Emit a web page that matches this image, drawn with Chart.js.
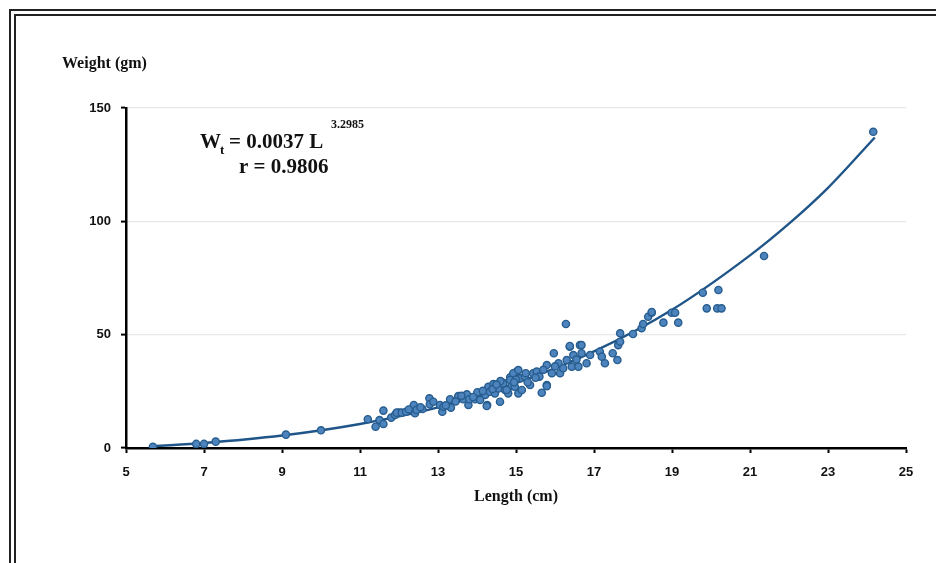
<!DOCTYPE html>
<html>
<head>
<meta charset="utf-8">
<script src="https://cdn.jsdelivr.net/npm/chart.js@4.4.1/dist/chart.umd.min.js"></script>
<style>
  body { margin: 0; background: #fff; }
  #wrap { position: relative; width: 936px; height: 563px; overflow: hidden; }
  #frame { position: absolute; left: 9px; top: 9px; width: 1000px; height: 700px; border: 7px double #222; box-sizing: border-box; }
  canvas { position: absolute; left: 0; top: 0; }
</style>
</head>
<body>
<div id="wrap">
  <div id="frame"></div>
  <canvas id="myChart" width="936" height="563"></canvas>
</div>
<script>
// observed length (cm) / weight (gm) pairs
const lengths = [
  5.69, 6.8, 7.0, 7.3, 9.1, 10.0,
  11.2, 11.4, 11.5, 11.6, 11.6, 11.8, 11.9, 12.0,
  11.94, 12.07, 12.18, 12.38, 12.41, 12.45, 12.78, 12.79, 12.88, 13.05, 13.11, 13.14,
  13.31, 13.33, 13.52, 13.65, 13.74, 13.78, 13.8, 13.95, 14.01, 14.21, 14.26, 14.29,
  14.33, 14.42, 14.46, 14.55, 14.59, 14.67, 14.72, 14.8, 14.85, 14.89, 15.02, 15.06,
  14.67, 14.76, 14.85, 14.93, 14.97, 15.06, 15.1, 15.15, 15.23, 15.36, 15.44, 15.53,
  15.6, 15.66, 15.79, 15.79, 15.92, 15.97, 16.09, 16.13, 16.21, 16.3, 16.38, 16.43,
  16.47, 16.6, 16.64, 16.68, 16.81, 16.9, 17.15, 17.28,
  16.28, 16.38, 16.68, 17.2, 17.48, 17.6, 17.62, 17.67, 17.67, 18.0, 18.22, 18.26,
  18.39, 18.48, 18.78, 19.16, 18.48, 18.99, 19.08,
  19.79, 19.89, 20.19, 20.16, 20.27, 21.36, 24.16,
  14.25, 14.08, 15.79, 13.9, 14.4, 14.6, 15.3, 15.5, 13.2, 12.6, 14.15, 15.0,
  12.25, 12.55, 13.45, 13.6, 14.5, 14.95, 15.25, 15.7, 16.0, 16.55
];
const weights = [
  0.5, 1.8, 1.8, 2.8, 5.9, 7.8,
  12.7, 9.4, 12.3, 16.5, 10.6, 13.4, 14.6, 15.6,
  15.6, 15.6, 16.0, 19.0, 15.3, 16.8, 21.9, 19.3, 20.4, 19.0, 16.0, 18.2,
  21.5, 17.8, 22.9, 21.5, 23.7, 19.0, 21.5, 21.5, 24.6, 23.4, 19.0, 27.0,
  24.8, 28.2, 24.1, 26.3, 20.4, 28.8, 25.6, 24.1, 31.2, 27.3, 33.7, 24.1,
  28.5, 25.6, 30.0, 33.0, 27.0, 34.4, 30.7, 25.6, 31.5, 27.8, 33.0, 33.7,
  31.5, 24.4, 27.8, 36.6, 33.0, 41.8, 37.4, 33.0, 35.2, 38.8, 44.7, 35.9,
  41.0, 35.9, 45.4, 41.8, 37.4, 41.0, 42.5, 37.4,
  54.7, 45.0, 45.4, 40.3, 41.8, 38.8, 45.4, 46.9, 50.6, 50.3, 52.8, 54.7,
  57.9, 59.7, 55.3, 55.3, 60.0, 59.7, 59.7,
  68.5, 61.6, 69.7, 61.6, 61.6, 84.7, 139.5,
  18.5, 21.2, 27.3, 22.5, 26.0, 29.5, 29.0, 31.0, 18.8, 17.2, 25.2, 30.2,
  17.0, 18.0, 20.5, 23.0, 28.0, 29.0, 33.0, 34.5, 36.0, 39.0
];

// fitted curve
const fitLengths = [5.7, 7, 9, 11, 13, 15, 17, 19, 21, 22, 23, 24.2];
const fitWeights = [0.8, 2.2, 5.5, 10.6, 17.9, 28.6, 42.6, 61.0, 85.0, 99.0, 114.8, 137.0];

const xTicks = [5, 7, 9, 11, 13, 15, 17, 19, 21, 23, 25];
const yTicks = [0, 50, 100, 150];

const points = lengths.map((l, i) => ({ x: l, y: weights[i] }));
const curve = fitLengths.map((l, i) => ({ x: l, y: fitWeights[i] }));

const textPlugin = {
  id: 'texts',
  afterDraw(chart) {
    const ctx = chart.ctx;
    ctx.save();
    ctx.fillStyle = '#111';
    ctx.textBaseline = 'alphabetic';
    ctx.font = "bold 16px 'Liberation Serif'";
    ctx.fillText('Weight (gm)', 62, 68);

    ctx.font = "bold 21px 'Liberation Serif'";
    ctx.fillText('W', 200, 148);
    ctx.font = "bold 13px 'Liberation Serif'";
    ctx.fillText('t', 220, 154);
    ctx.font = "bold 21px 'Liberation Serif'";
    ctx.fillText('= 0.0037 L', 229, 148);
    ctx.font = "bold 12px 'Liberation Serif'";
    ctx.fillText('3.2985', 331, 128);
    ctx.font = "bold 21px 'Liberation Serif'";
    ctx.fillText('r = 0.9806', 239, 173);
    ctx.restore();
  }
};

const canvas = document.getElementById('myChart').getContext('2d');
const myChart = new Chart(canvas, {
  type: 'scatter',
  data: {
    datasets: [
      {
        label: 'fit',
        data: curve,
        showLine: true,
        borderColor: '#1f5588',
        borderWidth: 2.4,
        pointRadius: 0,
        cubicInterpolationMode: 'monotone',
        order: 2
      },
      {
        label: 'obs',
        data: points,
        backgroundColor: '#4d84bd',
        borderColor: '#275d8f',
        borderWidth: 1.4,
        pointRadius: 3.6,
        order: 1
      }
    ]
  },
  options: {
    responsive: false,
    animation: false,
    layout: { padding: { left: 0, right: 30, top: 108, bottom: 0 } },
    plugins: { legend: { display: false }, tooltip: { enabled: false } },
    scales: {
      x: {
        type: 'linear',
        min: 5, max: 25,
        afterBuildTicks: (s) => { s.ticks = xTicks.map(v => ({ value: v })); },
        afterFit: (s) => { s.height = 115; },
        border: { color: '#000', width: 2.5 },
        grid: { drawOnChartArea: false, drawTicks: true, tickLength: 5, color: '#000', tickWidth: 2 },
        ticks: { color: '#111', padding: 12, font: { family: 'Liberation Sans', weight: 'bold', size: 13 } },
        title: {
          display: true, text: 'Length (cm)', color: '#111',
          font: { family: 'Liberation Serif', weight: 'bold', size: 16 },
          padding: { top: 0, bottom: 57 }
        }
      },
      y: {
        type: 'linear',
        min: 0, max: 150,
        afterBuildTicks: (s) => { s.ticks = yTicks.map(v => ({ value: v })); },
        afterFit: (s) => { s.width = 126; },
        border: { color: '#000', width: 2.5 },
        grid: {
          color: (c) => c.tick && c.tick.value === 0 ? 'rgba(0,0,0,0)' : '#e8e8e8',
          tickColor: '#000', tickLength: 5, tickWidth: 2, lineWidth: 1.2
        },
        ticks: { color: '#111', padding: 10, font: { family: 'Liberation Sans', weight: 'bold', size: 13 } }
      }
    }
  },
  plugins: [textPlugin]
});
</script>
</body>
</html>
